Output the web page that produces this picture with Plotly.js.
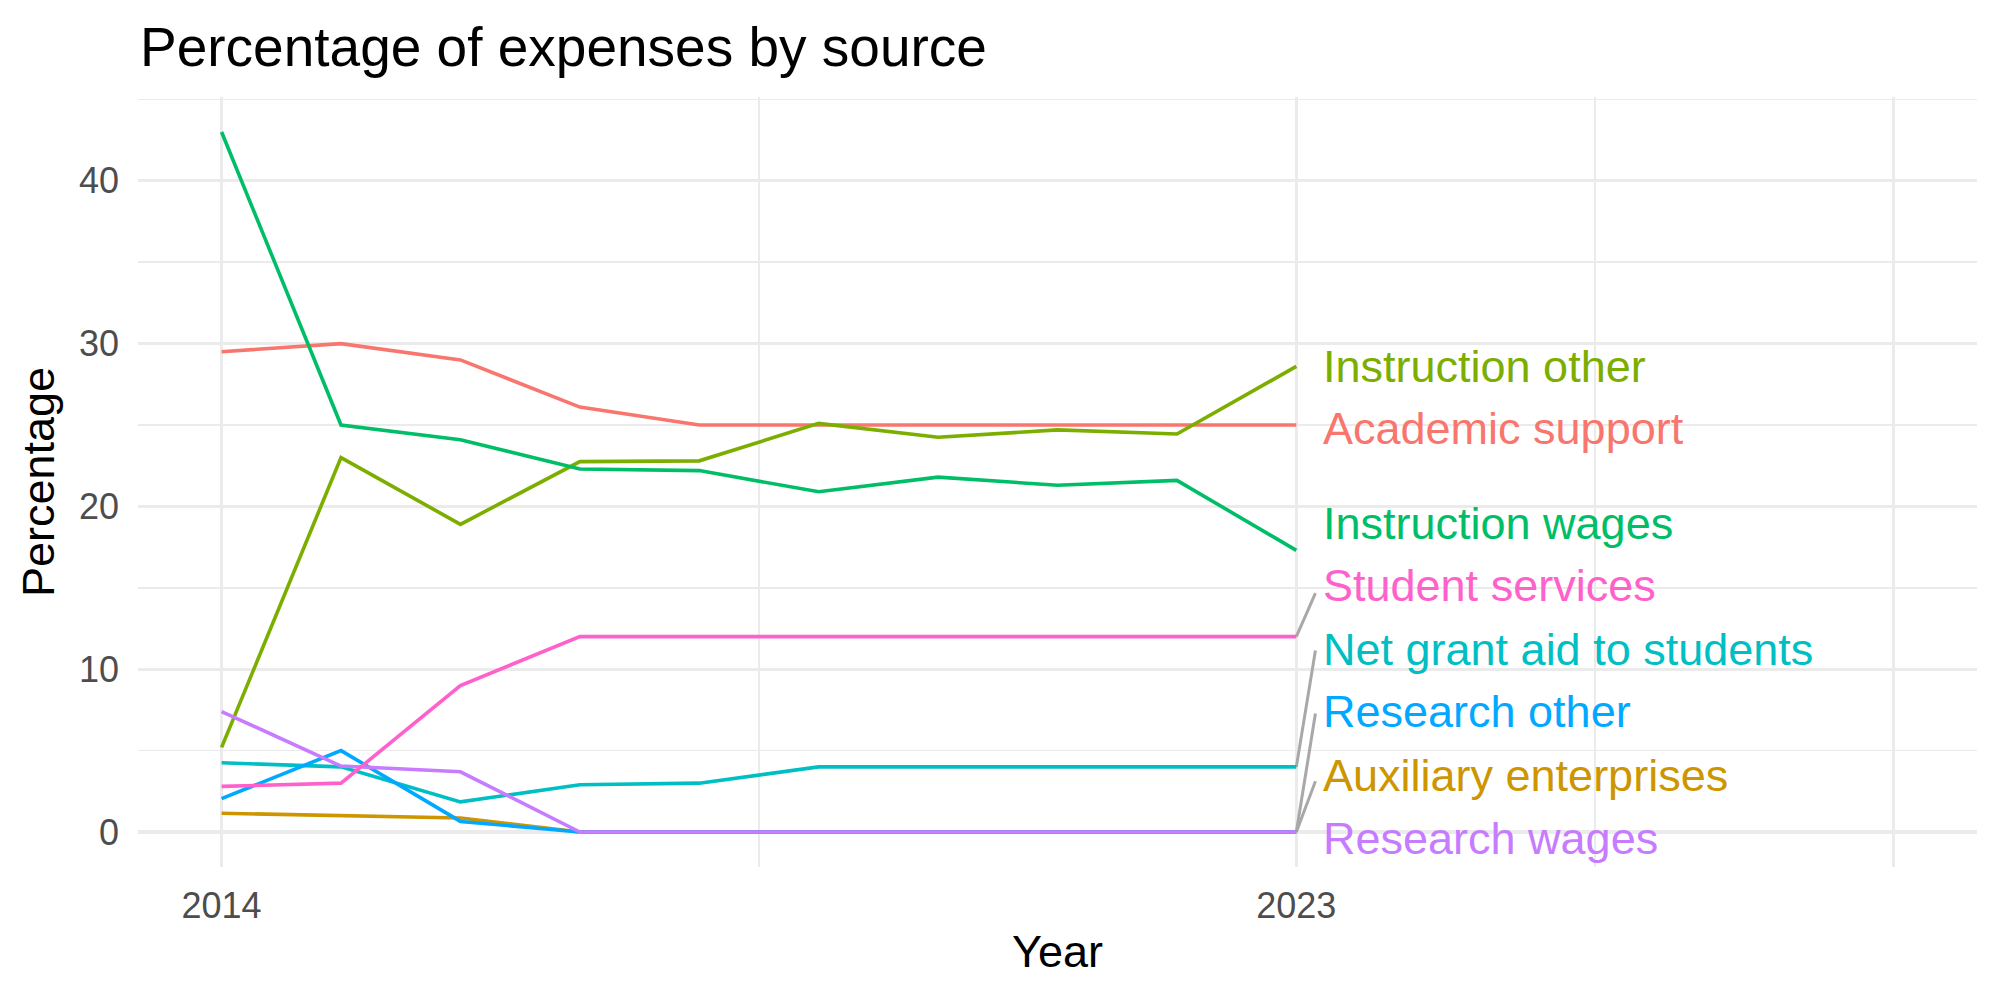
<!DOCTYPE html>
<html>
<head>
<meta charset="utf-8">
<script src="https://cdn.plot.ly/plotly-3.0.1.min.js"></script>
<style>html,body{margin:0;padding:0;background:#fff;}#chart{width:2000px;height:1000px;}</style>
</head>
<body>
<div id="chart"></div>
<script>
// ---- data ----
const years = [2014, 2015, 2016, 2017, 2018, 2019, 2020, 2021, 2022, 2023];
const seriesNames = ["Academic support", "Auxiliary enterprises", "Instruction other", "Instruction wages",
  "Net grant aid to students", "Research other", "Research wages", "Student services"];
const academicSupport      = [29.5, 30.0, 29.0, 26.1, 25.0, 25.0, 25.0, 25.0, 25.0, 25.0];
const auxiliaryEnterprises = [1.15, 1.0, 0.86, 0, 0, 0, 0, 0, 0, 0];
const instructionOther     = [5.2, 23.0, 18.9, 22.75, 22.8, 25.1, 24.25, 24.7, 24.45, 28.6];
const instructionWages     = [43.0, 25.0, 24.1, 22.3, 22.2, 20.9, 21.8, 21.3, 21.6, 17.3];
const netGrantAid          = [4.25, 4.0, 1.85, 2.9, 3.0, 4.0, 4.0, 4.0, 4.0, 4.0];
const researchOther        = [2.05, 5.0, 0.65, 0, 0, 0, 0, 0, 0, 0];
const researchWages        = [7.4, 4.05, 3.7, 0, 0, 0, 0, 0, 0, 0];
const studentServices      = [2.8, 3.0, 9.0, 12.0, 12.0, 12.0, 12.0, 12.0, 12.0, 12.0];
const seriesValues = [academicSupport, auxiliaryEnterprises, instructionOther, instructionWages,
  netGrantAid, researchOther, researchWages, studentServices];
// repelled label positions (y of label centre) and connector end points
const labelY      = [24.76, 3.49, 28.62, 18.98, 11.21, 7.39, -0.38, 15.13];
const segmentEndY = [null, 3.12, null, null, 11.15, 7.28, null, 14.67];
const xTickVals = [2014, 2023, 2028];
const xTickText = ["2014", "2023", ""];
const xMinorVals = [2018.5, 2025.5];
const yTickVals = [0, 10, 20, 30, 40];
const yMinorVals = [5, 15, 25, 35, 45];

// ---- styling ----
const colors = ["#F8766D", "#CD9600", "#7CAE00", "#00BE67", "#00BFC4", "#00A9FF", "#C77CFF", "#FF61CC"];
const FONT = "Liberation Sans, Arial, Helvetica, sans-serif";
const lastYear = years[years.length - 1];
const labelX = lastYear + 0.21;
const segX = lastYear + 0.16;

const traces = [];
// connector segments first (drawn beneath)
seriesNames.forEach((n, i) => {
  if (segmentEndY[i] === null) return;
  const v = seriesValues[i];
  traces.push({
    x: [lastYear, segX], y: [v[v.length - 1], segmentEndY[i]],
    mode: "lines", type: "scatter", hoverinfo: "skip", showlegend: false,
    line: {color: "#A8A8A8", width: 3}
  });
});
seriesNames.forEach((n, i) => {
  traces.push({
    x: years, y: seriesValues[i], name: n, mode: "lines", type: "scatter",
    line: {color: colors[i], width: 3.6}, showlegend: false
  });
});

const annotations = seriesNames.map((n, i) => ({
  x: labelX, y: labelY[i], xref: "x", yref: "y", text: n, showarrow: false,
  xanchor: "left", yanchor: "middle", font: {family: FONT, size: 45, color: colors[i]}
}));

const layout = {
  width: 2000, height: 1000,
  paper_bgcolor: "#FFFFFF", plot_bgcolor: "#FFFFFF",
  margin: {l: 138, r: 23, t: 97, b: 133},
  font: {family: FONT},
  title: {text: "Percentage of expenses by source", font: {family: FONT, size: 55, color: "#000000"},
    x: 0.07, xref: "container", xanchor: "left", y: 0.953, yref: "container", yanchor: "middle"},
  xaxis: {
    range: [2013.3, 2028.7], tickvals: xTickVals, ticktext: xTickText,
    showgrid: true, gridcolor: "#EBEBEB", gridwidth: 3.2, zeroline: false, showline: false,
    ticks: "", ticklabelstandoff: 14,
    tickfont: {family: FONT, size: 36, color: "#4D4D4D"},
    minor: {tickvals: xMinorVals, showgrid: true, gridcolor: "#EBEBEB", gridwidth: 1.6, ticks: ""},
    title: {text: "Year", font: {family: FONT, size: 45, color: "#000000"}, standoff: 10},
    automargin: false
  },
  yaxis: {
    range: [-2.15, 45.15], tickvals: yTickVals,
    showgrid: true, gridcolor: "#EBEBEB", gridwidth: 3.2, zeroline: false, showline: false,
    ticks: "", ticklabelstandoff: 18,
    tickfont: {family: FONT, size: 36, color: "#4D4D4D"},
    minor: {tickvals: yMinorVals, showgrid: true, gridcolor: "#EBEBEB", gridwidth: 1.6, ticks: ""},
    title: {text: "Percentage", font: {family: FONT, size: 45, color: "#000000"}, standoff: 10},
    automargin: false
  },
  annotations: annotations
};

Plotly.newPlot("chart", traces, layout, {staticPlot: true, displayModeBar: false});
</script>
</body>
</html>
